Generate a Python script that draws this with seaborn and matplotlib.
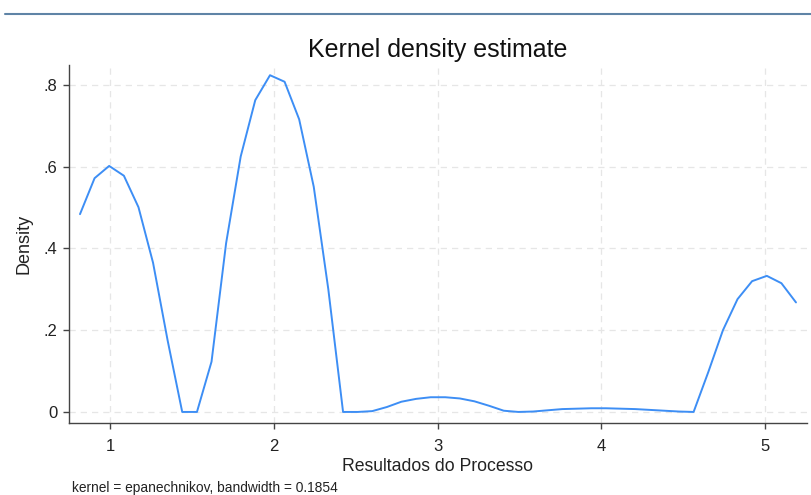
import matplotlib
matplotlib.use("Agg")
import pandas as pd
import seaborn as sns
import matplotlib.pyplot as plt
from matplotlib.lines import Line2D

# evaluation points of the kernel density (50 points)
x_points = [0.817, 0.906, 0.995, 1.085, 1.174, 1.263, 1.352, 1.441, 1.531, 1.620,
            1.709, 1.798, 1.887, 1.977, 2.066, 2.155, 2.244, 2.333, 2.423, 2.512,
            2.601, 2.690, 2.779, 2.869, 2.958, 3.047, 3.136, 3.225, 3.315, 3.404,
            3.493, 3.582, 3.671, 3.761, 3.850, 3.939, 4.028, 4.117, 4.207, 4.296,
            4.385, 4.474, 4.563, 4.653, 4.742, 4.831, 4.920, 5.010, 5.099, 5.188]
density = [0.484, 0.572, 0.602, 0.578, 0.501, 0.365, 0.175, 0.0, 0.0, 0.123,
           0.413, 0.625, 0.763, 0.824, 0.808, 0.716, 0.551, 0.300, 0.0, 0.0,
           0.002, 0.012, 0.025, 0.032, 0.036, 0.036, 0.033, 0.026, 0.015, 0.003,
           0.0, 0.001, 0.004, 0.007, 0.008, 0.009, 0.009, 0.008, 0.007, 0.005,
           0.003, 0.001, 0.0, 0.098, 0.200, 0.276, 0.320, 0.333, 0.315, 0.268]

x_ticks = [1, 2, 3, 4, 5]
y_ticks = [0, 0.2, 0.4, 0.6, 0.8]
y_tick_labels = ['0', '.2', '.4', '.6', '.8']

sns.set_theme(style='white')
plt.rcParams['font.family'] = ['Liberation Sans', 'DejaVu Sans']

df = pd.DataFrame({'x': x_points, 'density': density})

fig = plt.figure(figsize=(8.12, 4.95), dpi=100)
ax = fig.add_axes([0.085, 0.1455, 0.9088, 0.7232])

sns.lineplot(data=df, x='x', y='density', ax=ax, color='#3d8ef5', linewidth=1.4)

ax.set_xlim(0.75, 5.255)
ax.set_ylim(-0.027, 0.849)
ax.set_xticks(x_ticks)
ax.set_yticks(y_ticks)
ax.set_yticklabels(y_tick_labels)

ax.grid(True, linestyle=(0, (5, 4)), color='#e6e6e6', linewidth=0.9)
ax.set_axisbelow(True)

for side in ['top', 'right']:
    ax.spines[side].set_visible(False)
for side in ['left', 'bottom']:
    ax.spines[side].set_color('#444444')
    ax.spines[side].set_linewidth(1.0)

ax.tick_params(axis='both', which='major', direction='out', length=4.5,
               width=1.0, color='#444444', labelsize=12, labelcolor='#222222',
               left=True, bottom=True)
ax.tick_params(axis='x', pad=7)
ax.tick_params(axis='y', pad=4)

ax.set_xlabel('Resultados do Processo', fontsize=12.7, color='#222222', labelpad=3)
ax.set_ylabel('Density', fontsize=13, color='#222222', labelpad=8)
ax.set_title('Kernel density estimate', fontsize=18, color='#111111', pad=6)

fig.text(72 / 812, 1 - 488 / 495, 'kernel = epanechnikov, bandwidth = 0.1854',
         fontsize=9.9, color='#222222', ha='left', va='center')

# thin bar across the top of the screenshot
fig.add_artist(Line2D([5 / 812, 1.0], [1 - 14 / 495, 1 - 14 / 495],
                      color='#5f84a6', linewidth=1.5, transform=fig.transFigure))

fig.savefig('out.png', dpi=100)
